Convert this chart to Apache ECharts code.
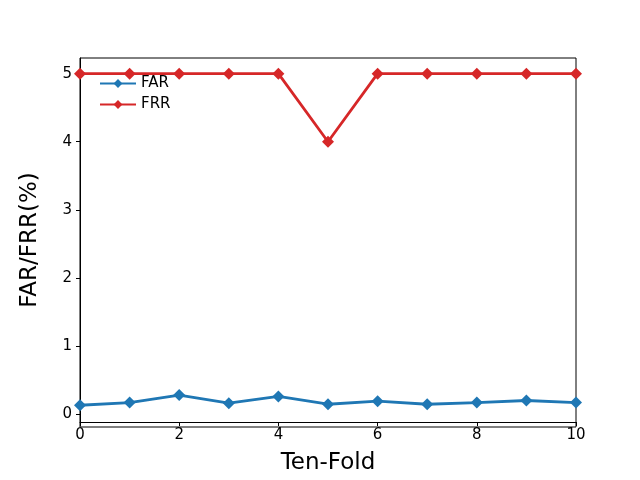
<!DOCTYPE html>
<html>
<head>
<meta charset="utf-8">
<script src="https://cdn.jsdelivr.net/npm/echarts@6/dist/echarts.min.js"></script>
<style>html,body{margin:0;padding:0;background:#fff}#chart{width:640px;height:480px}</style>
</head>
<body>
<div id="chart"></div>
<script>
var folds = [0, 1, 2, 3, 4, 5, 6, 7, 8, 9, 10];
var farValues = [0.13, 0.17, 0.28, 0.16, 0.26, 0.145, 0.19, 0.145, 0.17, 0.2, 0.17];
var frrValues = [5, 5, 5, 5, 5, 4, 5, 5, 5, 5, 5];
var yTicks = [0, 1, 2, 3, 4, 5];

var chart = echarts.init(document.getElementById('chart'));

function pairs(vals) {
  return folds.map(function (f, i) { return [f, vals[i]]; });
}

var axisFont = { fontFamily: 'DejaVu Sans', fontSize: 15, color: '#000' };

chart.setOption({
  animation: false,
  grid: { left: 80, right: 64, top: 58, bottom: 53 },
  legend: {
    orient: 'vertical',
    left: 94,
    top: 71,
    itemGap: 6,
    itemWidth: 36,
    itemHeight: 11,
    textStyle: { fontFamily: 'DejaVu Sans', fontSize: 15, color: '#000' },
    data: ['FAR', 'FRR']
  },
  xAxis: {
    type: 'value',
    min: 0, max: 10, interval: 2,
    name: 'Ten-Fold',
    nameLocation: 'middle',
    nameGap: 30,
    nameTextStyle: { fontFamily: 'DejaVu Sans', fontSize: 23, color: '#000' },
    axisLine: { onZero: false, lineStyle: { color: '#000' } },
    axisTick: { length: 4, lineStyle: { color: '#000' } },
    axisLabel: Object.assign({ margin: 6 }, axisFont),
    splitLine: { show: false }
  },
  yAxis: {
    type: 'value',
    min: -0.116, max: 5.23,
    name: 'FAR/FRR(%)',
    nameLocation: 'middle',
    nameGap: 38,
    nameTextStyle: { fontFamily: 'DejaVu Sans', fontSize: 23, color: '#000' },
    axisLine: { show: true, lineStyle: { color: '#000' } },
    axisTick: { show: true, length: 4, customValues: yTicks, lineStyle: { color: '#000' } },
    axisLabel: Object.assign({ margin: 8, customValues: yTicks }, axisFont),
    splitLine: { show: false }
  },
  series: [
    {
      name: 'FAR', type: 'line', data: pairs(farValues),
      symbol: 'diamond', symbolSize: 12,
      color: '#1f77b4', lineStyle: { width: 2.8 }
    },
    {
      name: 'FRR', type: 'line', data: pairs(frrValues),
      symbol: 'diamond', symbolSize: 12,
      color: '#d62728', lineStyle: { width: 2.8 }
    }
  ]
});
// frame on top/right like matplotlib
chart.setOption({
  graphic: [{
    type: 'rect', shape: { x: 80, y: 58, width: 496, height: 369 },
    style: { fill: 'none', stroke: '#000', lineWidth: 1 }, silent: true
  }]
});
</script>
</body>
</html>
